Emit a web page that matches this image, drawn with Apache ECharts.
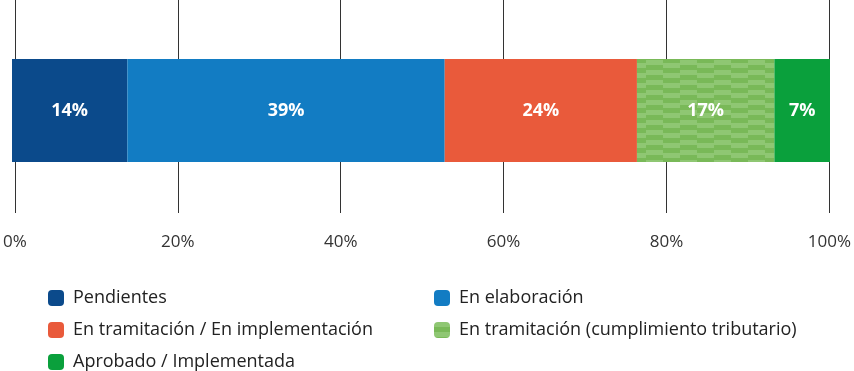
<!DOCTYPE html>
<html><head><meta charset="utf-8">
<script src="https://cdn.jsdelivr.net/npm/echarts@6/dist/echarts.min.js"></script>
<style>html,body{margin:0;padding:0;background:#fff}#c{width:854px;height:371px}</style>
</head><body><div id="c"></div>
<script>
const categories = ['Estado'];
const seriesNames = ['Pendientes','En elaboración','En tramitación / En implementación','En tramitación (cumplimiento tributario)','Aprobado / Implementada'];
const seriesValues = [14.1, 38.8, 23.5, 16.8, 6.8];
const tickLabels = ['0%','20%','40%','60%','80%','100%'];
const colors = ['#0b4a8b','#127cc3','#e95a3b',null,'#0aa03c'];

function makePattern(){
  const c = document.createElement('canvas');
  c.width = 34; c.height = 10;
  const g = c.getContext('2d');
  g.fillStyle = '#79b958'; g.fillRect(0,0,34,10);
  g.fillStyle = '#8fc773';
  g.fillRect(0,0,17,5); g.fillRect(17,3,17,5);
  return {image:c, repeat:'repeat'};
}
const pat = makePattern();
const FONT = 'Open Sans';
const chart = echarts.init(document.getElementById('c'));
const series = seriesNames.map((n,i)=>({
  name:n, type:'bar', stack:'t', xAxisIndex:1, yAxisIndex:1,
  barWidth:'100%',
  data:[seriesValues[i]],
  itemStyle:{color: i===3 ? pat : colors[i]},
  label:{show:true, position:'inside', color:'#fff', fontWeight:'bold', fontSize:18, fontFamily:FONT,
    formatter:p=>Math.round(p.value)+'%'}
}));
const legendCommon = {orient:'vertical',itemWidth:16,itemHeight:16,itemGap:14,height:110,
  textStyle:{fontSize:18,color:'#222',fontFamily:FONT,padding:[0,0,0,4]},icon:'roundRect'};
chart.setOption({
  animation:false,
  grid:[{left:12,right:24,top:0,height:213},{left:12,right:24,top:59,height:103}],
  xAxis:[
    {gridIndex:0,type:'value',min:0,max:100,interval:20,
     axisLine:{show:false},axisTick:{show:false},
     splitLine:{show:true,lineStyle:{color:'#333',width:1}},
     axisLabel:{margin:21,fontSize:17,color:'#333',fontFamily:FONT,formatter:v=>tickLabels[v/20]}},
    {gridIndex:1,type:'value',min:0,max:100,show:false,splitLine:{show:false}}
  ],
  yAxis:[
    {gridIndex:0,type:'category',data:categories,show:false},
    {gridIndex:1,type:'category',data:categories,show:false}
  ],
  legend:[
    Object.assign({data:[seriesNames[0],seriesNames[2],seriesNames[4]],left:43,top:284},legendCommon),
    Object.assign({data:[seriesNames[1],seriesNames[3]],left:429,top:284},legendCommon)
  ],
  series
});
</script></body></html>
